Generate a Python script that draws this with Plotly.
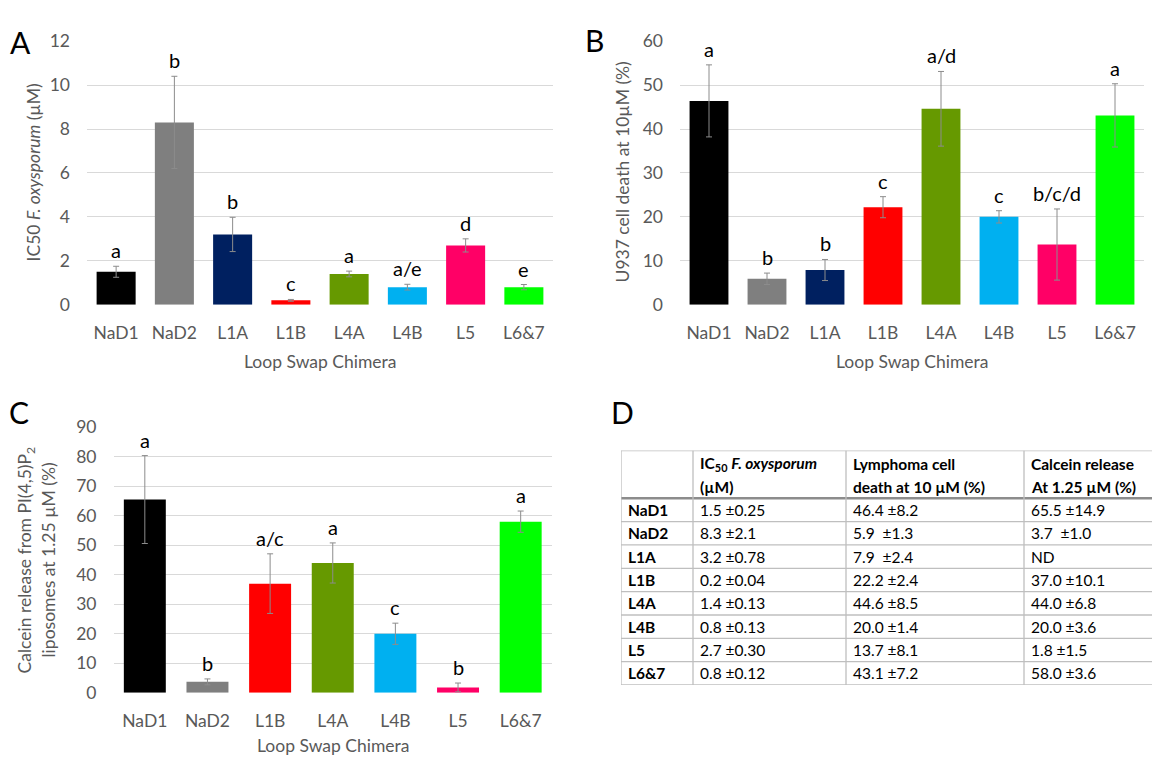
import plotly.graph_objects as go

W, H = 1152, 766

# ---------------- data ----------------
cats_ab = ["NaD1", "NaD2", "L1A", "L1B", "L4A", "L4B", "L5", "L6&7"]
colors_ab = ["#000000", "#7f7f7f", "#002060", "#ff0000", "#669900", "#00b0f0", "#ff0066", "#00ff00"]

ic50 = [1.5, 8.3, 3.2, 0.2, 1.4, 0.8, 2.7, 0.8]
ic50_err = [0.25, 2.1, 0.78, 0.04, 0.13, 0.13, 0.30, 0.12]
ic50_letters = ["a", "b", "b", "c", "a", "a/e", "d", "e"]

death = [46.4, 5.9, 7.9, 22.2, 44.6, 20.0, 13.7, 43.1]
death_err = [8.2, 1.3, 2.4, 2.4, 8.5, 1.4, 8.1, 7.2]
death_letters = ["a", "b", "b", "c", "a/d", "c", "b/c/d", "a"]

cats_c = ["NaD1", "NaD2", "L1B", "L4A", "L4B", "L5", "L6&7"]
colors_c = ["#000000", "#7f7f7f", "#ff0000", "#669900", "#00b0f0", "#ff0066", "#00ff00"]
calcein = [65.5, 3.7, 37.0, 44.0, 20.0, 1.8, 58.0]
calcein_err = [14.9, 1.0, 10.1, 6.8, 3.6, 1.5, 3.6]
calcein_letters = ["a", "b", "a/c", "a", "c", "b", "a"]

table_rows = ["NaD1", "NaD2", "L1A", "L1B", "L4A", "L4B", "L5", "L6&7"]
table_ic50 = ["1.5 ±0.25", "8.3 ±2.1", "3.2 ±0.78", "0.2 ±0.04", "1.4 ±0.13", "0.8 ±0.13", "2.7 ±0.30", "0.8 ±0.12"]
table_death = ["46.4 ±8.2", "5.9  ±1.3", "7.9  ±2.4", "22.2 ±2.4", "44.6 ±8.5", "20.0 ±1.4", "13.7 ±8.1", "43.1 ±7.2"]
table_calcein = ["65.5 ±14.9", "3.7  ±1.0", "ND", "37.0 ±10.1", "44.0 ±6.8", "20.0 ±3.6", "1.8 ±1.5", "58.0 ±3.6"]
table_header_l1 = ["", "IC<sub>50</sub> <i>F. oxysporum</i>", "Lymphoma cell", "Calcein release"]
table_header_l2 = ["", "(µM)", "death at 10 µM (%)", "At 1.25 µM (%)"]

# ---------------- helpers ----------------
FONT = "Lato, 'Open Sans', sans-serif"
GRAY_TXT = "#595959"
GRID = "#d9d9d9"


def px(xp):
    return xp / W


def py(yp):
    return 1 - yp / H


fig = go.Figure()


def add_panel(idx, cats, vals, errs, cols, letters):
    xa = "x" if idx == 1 else f"x{idx}"
    ya = "y" if idx == 1 else f"y{idx}"
    fig.add_trace(go.Bar(
        x=cats, y=vals, xaxis=xa, yaxis=ya,
        marker=dict(color=cols, line=dict(width=0)),
        error_y=dict(type="data", array=errs, visible=True,
                     color="#8c8c8c", thickness=1, width=3),
        showlegend=False, hoverinfo="skip",
    ))
    for c, v, e, t in zip(cats, vals, errs, letters):
        fig.add_annotation(x=c, y=v + e, xref=xa, yref=ya, text=t,
                           showarrow=False, yanchor="bottom", yshift=2,
                           font=dict(family=FONT, size=20, color="#000000"))


add_panel(1, cats_ab, ic50, ic50_err, colors_ab, ic50_letters)
add_panel(2, cats_ab, death, death_err, colors_ab, death_letters)
add_panel(3, cats_c, calcein, calcein_err, colors_c, calcein_letters)

xcommon = dict(showgrid=False, zeroline=False, showline=False, ticks="",
               ticklabelstandoff=16, tickfont=dict(family=FONT, size=17.5, color=GRAY_TXT),
               fixedrange=True)
ycommon = dict(showgrid=True, gridcolor=GRID, gridwidth=1, zeroline=False,
               showline=False, ticks="", ticklabelstandoff=16,
               tickfont=dict(family=FONT, size=17.5, color=GRAY_TXT), fixedrange=True)

top_ab, bot_ab = 31, 302
top_c, bot_c = 428, 701

# table geometry (pixels)
tbl_left, tbl_top, tbl_head, tbl_row_h = 621, 452, 501, 24
col_w = [72, 153, 178, 128]
col_edges = [sum(col_w[:i]) for i in range(len(col_w) + 1)]
n_rows = len(table_rows)
tbl_bot = tbl_head + n_rows * tbl_row_h
head_units = (tbl_head - tbl_top) / tbl_row_h

fig.update_layout(
    xaxis=dict(domain=[px(87), px(553)], anchor="y", **xcommon),
    yaxis=dict(domain=[py(bot_ab), py(top_ab)], anchor="x", range=[0, 12], dtick=2, **ycommon),
    xaxis2=dict(domain=[px(680), px(1144)], anchor="y2", **xcommon),
    yaxis2=dict(domain=[py(bot_ab), py(top_ab)], anchor="x2", range=[0, 60], dtick=10, **ycommon),
    xaxis3=dict(domain=[px(113.5), px(552)], anchor="y3", **xcommon),
    yaxis3=dict(domain=[py(bot_c), py(top_c)], anchor="x3", range=[0, 90], dtick=10, **ycommon),
    xaxis4=dict(domain=[px(tbl_left), px(tbl_left + col_edges[-1])], anchor="y4",
                range=[0, col_edges[-1]], visible=False, fixedrange=True),
    yaxis4=dict(domain=[py(tbl_bot), py(tbl_top)], anchor="x4",
                range=[n_rows, -head_units], visible=False, fixedrange=True),
    bargap=0.33,
    width=W, height=H,
    margin=dict(l=0, r=0, t=0, b=0),
    paper_bgcolor="white", plot_bgcolor="white",
    font=dict(family=FONT, color=GRAY_TXT),
)

# ---------------- table (panel D) drawn on axis 4 ----------------
LINE_C = "#bfbfbf"
# horizontal lines
for r in range(1, n_rows + 1):
    fig.add_shape(type="line", xref="x4", yref="y4", x0=0, x1=col_edges[-1], y0=r, y1=r,
                  line=dict(color=LINE_C, width=1.3))
fig.add_shape(type="line", xref="x4", yref="y4", x0=0, x1=col_edges[-1],
              y0=-head_units, y1=-head_units, line=dict(color=LINE_C, width=1.3))
fig.add_shape(type="line", xref="x4", yref="y4", x0=0, x1=col_edges[-1], y0=0, y1=0,
              line=dict(color="#8c8c8c", width=2.5))
# vertical lines
for ce in col_edges[:-1]:
    fig.add_shape(type="line", xref="x4", yref="y4", x0=ce, x1=ce,
                  y0=-head_units, y1=n_rows, line=dict(color=LINE_C, width=1.3))

TFONT = dict(family=FONT, size=15.5, color="#000000")
y_h1 = (466 - tbl_head) / tbl_row_h
y_h2 = (489 - tbl_head) / tbl_row_h
for ci in range(1, len(col_w)):
    fig.add_annotation(x=col_edges[ci] + 5, y=y_h1, xref="x4", yref="y4",
                       text=f"<b>{table_header_l1[ci]}</b>", showarrow=False,
                       xanchor="left", yanchor="middle", font=TFONT)
    fig.add_annotation(x=col_edges[ci] + 5, y=y_h2, xref="x4", yref="y4",
                       text=f"<b>{table_header_l2[ci]}</b>", showarrow=False,
                       xanchor="left", yanchor="middle", font=TFONT)

columns = [[f"<b>{r}</b>" for r in table_rows], table_ic50, table_death, table_calcein]
for ci, col in enumerate(columns):
    for ri, txt in enumerate(col):
        fig.add_annotation(x=col_edges[ci] + 5, y=ri + 0.5, xref="x4", yref="y4",
                           text=txt.replace("  ", "&nbsp;&nbsp;"), showarrow=False,
                           xanchor="left", yanchor="middle", font=TFONT)

# ---------------- text: titles & panel letters ----------------
def ann(x, y, text, size=17.5, color=GRAY_TXT, angle=0, xanchor="center", yanchor="middle"):
    fig.add_annotation(x=px(x), y=py(y), xref="paper", yref="paper", text=text,
                       showarrow=False, textangle=angle, xanchor=xanchor, yanchor=yanchor,
                       font=dict(family=FONT, size=size, color=color))


ann(320, 360, "Loop Swap Chimera")
ann(912, 360, "Loop Swap Chimera")
ann(333, 755, "Loop Swap Chimera")

ann(33, 166, "IC50 <i>F. oxysporum</i> (µM)", angle=-90)
ann(622, 166, "U937 cell death at 10µM (%)", angle=-90)
ann(26, 565, "Calcein release from PI(4,5)P<sub>2</sub>", angle=-90)
ann(49, 565, "liposomes at 1.25 µM (%)", angle=-90)

ann(20, 32, "A", size=30, color="#000000")
ann(594, 30, "B", size=30, color="#000000")
ann(19, 412, "C", size=30, color="#000000")
ann(622, 412, "D", size=30, color="#000000")

fig.write_html("out.html", config={"displayModeBar": False},
               post_script="document.body.style.margin='0';document.body.style.overflow='hidden';")
